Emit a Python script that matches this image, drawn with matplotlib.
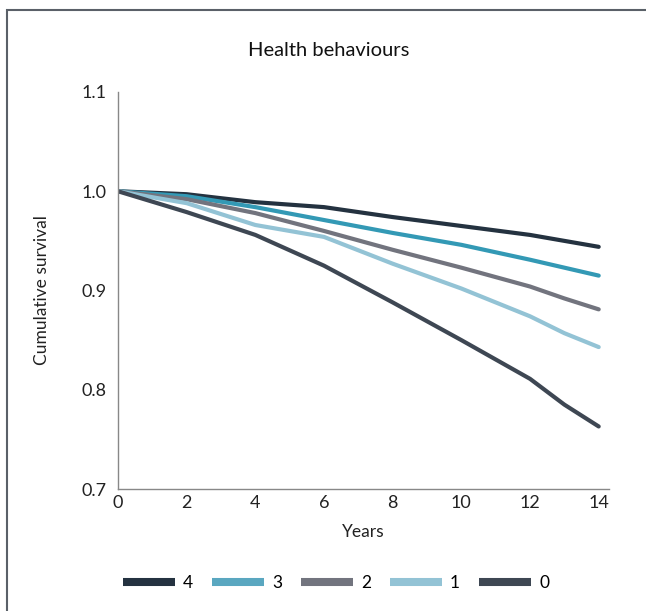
import matplotlib
matplotlib.use("Agg")
import matplotlib.pyplot as plt
from matplotlib.lines import Line2D
from matplotlib.patches import Rectangle

years = [0, 2, 4, 6, 8, 10, 12, 13, 14]
series_labels = ["4", "3", "2", "1", "0"]
surv_4 = [1.000, 0.997, 0.989, 0.984, 0.974, 0.965, 0.956, 0.950, 0.944]
surv_3 = [1.000, 0.995, 0.984, 0.971, 0.958, 0.946, 0.931, 0.923, 0.915]
surv_2 = [1.000, 0.992, 0.978, 0.960, 0.941, 0.923, 0.904, 0.892, 0.881]
surv_1 = [1.000, 0.988, 0.966, 0.954, 0.927, 0.902, 0.874, 0.857, 0.843]
surv_0 = [1.000, 0.979, 0.956, 0.925, 0.888, 0.850, 0.811, 0.785, 0.763]
xticks = [0, 2, 4, 6, 8, 10, 12, 14]
yticks = [0.7, 0.8, 0.9, 1.0, 1.1]

colors = ["#243240", "#3399b5", "#72747e", "#93c3d5", "#3e4753"]
legend_colors = ["#243240", "#5aa7c0", "#72747e", "#93c3d5", "#3e4753"]

plt.rcParams['font.family'] = ['Lato', 'DejaVu Sans']

W, H = 646, 611
fig = plt.figure(figsize=(W/100, H/100), dpi=100)
ax = fig.add_axes([118/W, 1 - 489/H, (609-118)/W, (489-92)/H])

for s, c, lab in zip([surv_4, surv_3, surv_2, surv_1, surv_0], colors, series_labels):
    ax.plot(years, s, color=c, lw=3, solid_capstyle='round', solid_joinstyle='round', label=lab)

ax.set_xlim(0, 14.3)
ax.set_ylim(0.7, 1.1)
ax.set_xticks(xticks)
ax.set_xticklabels([str(t) for t in xticks])
ax.set_yticks(yticks)
ax.set_yticklabels([f"{t:.1f}" for t in yticks])
ax.tick_params(length=0, labelsize=13, colors="#222222")
ax.tick_params(axis='y', pad=8)
ax.tick_params(axis='x', pad=4)
for sp in ['top', 'right']:
    ax.spines[sp].set_visible(False)
for sp in ['left', 'bottom']:
    ax.spines[sp].set_color("#888888")
    ax.spines[sp].set_linewidth(1.0)

ax.set_xlabel("Years", fontsize=12.5, color="#222222")
ax.xaxis.set_label_coords((363-118)/491, (489-524)/397)
ax.set_ylabel("Cumulative survival", fontsize=12.5, color="#222222")
ax.yaxis.set_label_coords((50-118)/491, (489-290)/397)
fig.text(329/W, 1 - 50/H, "Health behaviours", ha='center', va='center',
         fontsize=14.5, color="#111111")

handles = [Line2D([0], [0], color=c, lw=5.8, solid_capstyle='butt') for c in legend_colors]
fig.legend(handles, series_labels, loc='center', bbox_to_anchor=(336/W, 1 - 583/H),
           ncol=5, frameon=False, fontsize=12.5, handlelength=3.0, handletextpad=0.45,
           columnspacing=1.1, borderpad=0, borderaxespad=0)

fig.add_artist(Rectangle((7/W, -0.1), 1.2, 1 - 10/H + 0.1, transform=fig.transFigure,
                         fill=False, edgecolor="#5a6068", lw=1.5))

fig.savefig("out.png", dpi=100)
